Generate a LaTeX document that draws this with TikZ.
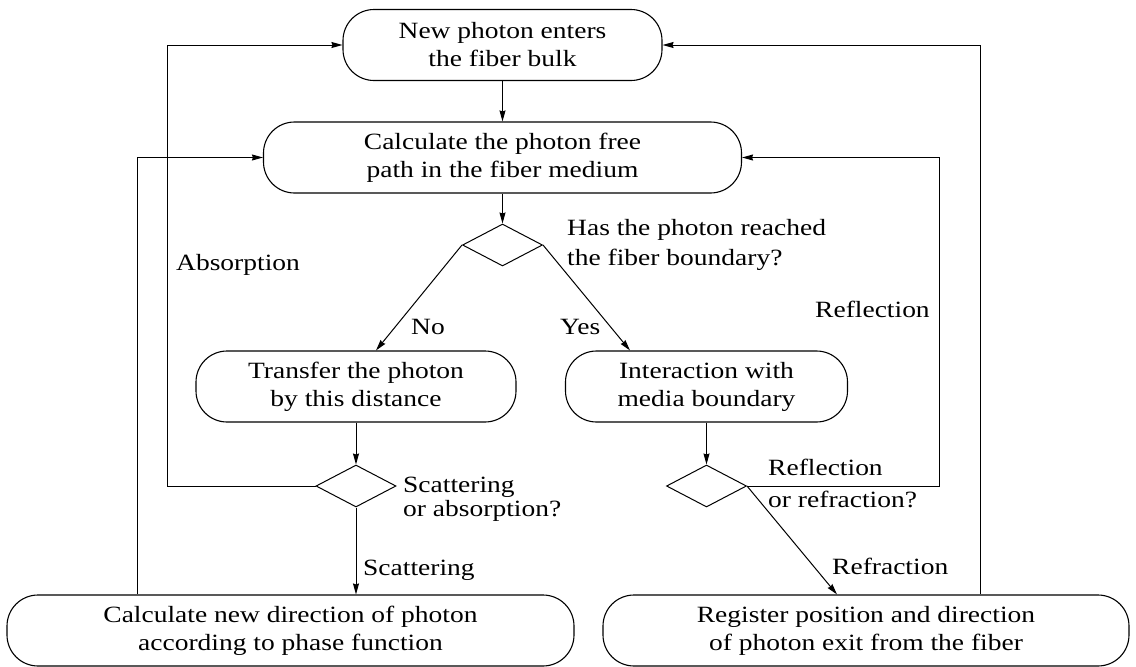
\documentclass[tikz,border=0pt]{standalone}
\usepackage{fontspec}
\setmainfont{Liberation Serif}[FakeStretch=1.18]
\usetikzlibrary{shapes.geometric,arrows.meta}
\begin{document}
\begin{tikzpicture}[x=1pt,y=-1pt,
	proc/.style={draw,line width=1.1pt,rounded corners=31pt,minimum height=71pt,align=center,inner sep=0pt,font=\fontsize{23.3}{28}\selectfont},
	dec/.style={draw,line width=1pt,diamond,minimum width=80pt,minimum height=42pt,inner sep=0pt},
	lbl/.style={anchor=base west,inner sep=0pt,align=left,font=\fontsize{23.3}{28}\selectfont},
	arr/.style={line width=1pt,-{Stealth[length=11pt,width=6pt,inset=1pt]}}]
	\useasboundingbox (0,0) rectangle (1136,667);
	
	\node[proc,minimum width=319pt] (enter) at (502.5,45) {New photon enters\\the fiber bulk};
	\node[proc,minimum width=478pt] (path) at (502.5,157.5) {Calculate the photon free\\path in the fiber medium};
	\node[dec] (reach) at (502.5,245) {};
	\node[proc,minimum width=320pt] (transfer) at (356,386.5) {Transfer the photon\\by this distance};
	\node[proc,minimum width=282pt] (bound) at (706.5,386.5) {Interaction with\\media boundary};
	\node[dec] (scat) at (356,486) {};
	\node[dec] (refl) at (706.5,486) {};
	\node[proc,minimum width=567pt] (newdir) at (290.5,630.5) {Calculate new direction of photon\\according to phase function};
	\node[proc,minimum width=526pt] (exit) at (866,630.5) {Register position and direction\\of photon exit from the fiber};
	
	\coordinate (absx) at (167,0); \coordinate (dirx) at (137,0);
	\coordinate (reflx) at (939,0); \coordinate (exitx) at (980,0);
	
	\draw[arr] (enter) -- (path);
	\draw[arr] (path) -- (reach);
	\draw[arr] (reach.west) -- ([xshift=20pt]transfer.north);
	\draw[arr] (reach.east) -- ([xshift=-76.5pt]bound.north);
	\draw[arr] (transfer) -- (scat);
	\draw[arr] (bound) -- (refl);
	\draw[arr] (scat) -- (scat |- newdir.north);
	\draw[arr] (refl.east) -- ([xshift=-29pt]exit.north);
	\draw[arr] (scat.west) -- (scat.west -| absx) |- (enter.west);
	\draw[arr] (newdir.north -| dirx) |- (path.west);
	\draw[arr] (refl.east) -- (refl.east -| reflx) |- (path.east);
	\draw[arr] (exit.north -| exitx) |- (enter.east);
	
	\node[lbl] (lreach) at (567,265) {Has the photon reached\\[2pt]the fiber boundary?};
	\node[lbl] (labs) at (176,270) {Absorption};
	\node[lbl] (lno) at (411,334) {No};
	\node[lbl] (lyes) at (560,334) {Yes};
	\node[lbl] (lrefl) at (815,317) {Reflection};
	\node[lbl] (lscat) at (403,516) {Scattering\\[-4pt]or absorption?};
	\node[lbl] (lrr) at (768,507) {Reflection\\[4pt]or refraction?};
	\node[lbl] (lsc) at (363,575) {Scattering};
	\node[lbl] (lrf) at (832,574) {Refraction};
\end{tikzpicture}
\end{document}
